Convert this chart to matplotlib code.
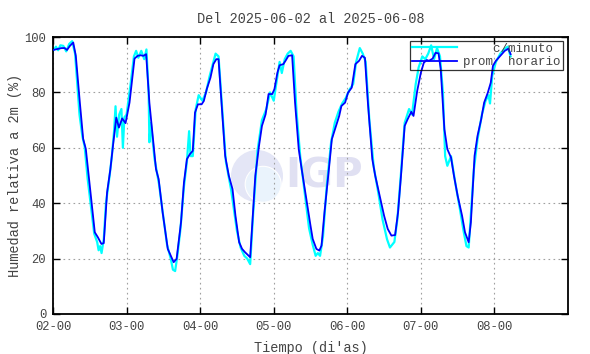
import matplotlib
matplotlib.use("Agg")
import matplotlib.pyplot as plt
from matplotlib.patches import Ellipse

# prom horario (dia del mes, %)
t_hora = [2.0, 2.117, 2.16, 2.19, 2.23, 2.275, 2.31, 2.365, 2.41, 2.446, 2.5, 2.568,
          2.61, 2.658, 2.69, 2.735, 2.78, 2.815, 2.86, 2.896, 2.94, 2.986, 3.04,
          3.108, 3.15, 3.19, 3.23, 3.266, 3.31, 3.355, 3.4, 3.436, 3.49, 3.56, 3.6,
          3.64, 3.68, 3.74, 3.78, 3.82, 3.86, 3.9, 3.93, 3.97, 4.02, 4.05, 4.09,
          4.14, 4.18, 4.22, 4.25, 4.3, 4.34, 4.39, 4.44, 4.48, 4.53, 4.57, 4.61,
          4.68, 4.71, 4.75, 4.8, 4.84, 4.89, 4.93, 4.98, 5.01, 5.05, 5.08, 5.13,
          5.16, 5.2, 5.25, 5.29, 5.34, 5.38, 5.45, 5.5, 5.53, 5.58, 5.62, 5.65,
          5.69, 5.75, 5.79, 5.84, 5.89, 5.92, 5.97, 6.01, 6.06, 6.11, 6.16, 6.2,
          6.24, 6.28, 6.34, 6.38, 6.44, 6.5, 6.55, 6.6, 6.65, 6.69, 6.73, 6.78,
          6.82, 6.87, 6.9, 6.95, 7.0, 7.04, 7.08, 7.11, 7.16, 7.2, 7.24, 7.27,
          7.32, 7.36, 7.41, 7.45, 7.5, 7.56, 7.6, 7.65, 7.68, 7.73, 7.77, 7.82,
          7.86, 7.91, 7.95, 7.98, 8.02, 8.08, 8.14, 8.19, 8.22]
h_hora = [95.3, 96.0, 96.0, 95.3, 96.8, 98.0, 93.2, 76.3, 63.2, 59.6, 46.3, 29.5,
          27.7, 25.3, 25.6, 43.9, 52.3, 60.7, 70.9, 67.3, 70.6, 68.9, 76.3,
          92.2, 93.2, 93.4, 93.2, 93.8, 76.3, 64.3, 52.3, 48.7, 36.7, 23.5, 21.1,
          18.7, 19.9, 33.1, 47.5, 55.9, 57.7, 58.9, 72.7, 75.7, 75.7, 76.9, 81.2,
          85.3, 90.2, 92.0, 92.0, 72.7, 57.1, 49.9, 45.1, 35.5, 25.9, 23.5, 22.3,
          20.5, 33.1, 49.9, 60.7, 67.9, 72.1, 79.4, 79.4, 81.2, 87.1, 89.8, 90.2,
          91.4, 93.2, 93.4, 76.3, 59.5, 52.3, 40.3, 31.9, 27.1, 23.5, 22.9, 24.7,
          36.7, 52.3, 63.1, 67.3, 71.5, 75.1, 76.3, 79.9, 81.7, 90.2, 91.4, 93.2,
          92.5, 76.3, 55.9, 49.9, 42.7, 35.5, 30.7, 28.3, 28.5, 36.7, 49.9, 67.9,
          70.3, 73.0, 71.5, 80.5, 87.1, 90.7, 91.7, 91.4, 92.2, 94.3, 94.1, 88.4,
          66.7, 59.5, 56.5, 49.9, 42.7, 35.5, 29.5, 25.9, 33.1, 57.1, 64.3, 70.3,
          76.3, 79.9, 83.5, 89.6, 91.4, 93.2, 95.0, 95.8, 93.8]

# c/minuto: picos visibles alrededor del promedio
t_min = [2.0, 2.04, 2.07, 2.1, 2.14, 2.18, 2.22, 2.26, 2.3, 2.36, 2.4, 2.43, 2.47,
         2.52, 2.56, 2.6, 2.62, 2.64, 2.66, 2.69, 2.72, 2.77, 2.8, 2.83, 2.85,
         2.87, 2.9, 2.93, 2.95, 2.97, 3.0, 3.05, 3.1, 3.13, 3.16, 3.2, 3.24,
         3.27, 3.3, 3.31, 3.33, 3.38, 3.44, 3.5, 3.55, 3.6, 3.63, 3.66, 3.69,
         3.73, 3.78, 3.82, 3.85, 3.87, 3.9, 3.94, 3.98, 4.03, 4.08, 4.13, 4.18,
         4.21, 4.25, 4.3, 4.35, 4.42, 4.5, 4.55, 4.6, 4.64, 4.68, 4.72, 4.78,
         4.84, 4.9, 4.95, 5.0, 5.04, 5.08, 5.11, 5.15, 5.19, 5.23, 5.27, 5.31,
         5.36, 5.42, 5.48, 5.53, 5.57, 5.6, 5.63, 5.67, 5.72, 5.78, 5.83, 5.88,
         5.93, 5.98, 6.03, 6.08, 6.12, 6.17, 6.21, 6.25, 6.3, 6.36, 6.42, 6.48,
         6.54, 6.58, 6.61, 6.64, 6.68, 6.73, 6.78, 6.84, 6.88, 6.93, 6.97, 7.02,
         7.06, 7.1, 7.14, 7.18, 7.22, 7.26, 7.3, 7.33, 7.36, 7.41, 7.47, 7.53,
         7.58, 7.62, 7.65, 7.68, 7.72, 7.77, 7.83, 7.88, 7.92, 7.94, 7.97, 8.02,
         8.08, 8.13, 8.18, 8.22]
h_min = [95.0, 96.5, 95.2, 97.0, 96.8, 94.8, 97.5, 98.5, 94.0, 72.0, 64.0, 60.5, 49.0,
         38.0, 29.0, 26.0, 23.0, 24.5, 22.0, 27.0, 40.0, 50.0, 57.0, 66.0, 75.0,
         64.0, 72.0, 74.0, 60.0, 71.0, 72.0, 82.0, 93.0, 95.0, 92.5, 95.0, 92.0,
         95.5, 80.0, 62.0, 69.0, 56.0, 47.0, 35.0, 25.0, 20.0, 16.0, 15.5, 21.0,
         30.0, 46.0, 55.0, 66.0, 57.0, 57.0, 74.0, 79.0, 77.0, 80.0, 86.0, 91.0,
         94.0, 93.0, 74.0, 55.0, 45.0, 30.0, 24.0, 21.0, 20.0, 18.0, 36.0, 59.0,
         70.0, 74.0, 80.0, 77.0, 84.0, 91.0, 87.0, 92.0, 94.0, 95.0, 93.0, 73.0,
         57.0, 44.0, 31.0, 25.0, 21.0, 22.0, 21.0, 28.0, 46.0, 62.0, 69.0, 73.0,
         76.0, 78.0, 81.0, 83.0, 91.0, 96.0, 94.0, 91.0, 70.0, 53.0, 44.0, 34.0,
         27.0, 24.0, 25.0, 26.0, 34.0, 51.0, 69.0, 74.0, 72.0, 83.0, 89.0, 93.0,
         92.0, 94.0, 97.0, 92.0, 96.0, 93.0, 80.0, 57.0, 53.5, 57.0, 47.0, 38.0,
         30.0, 24.5, 24.0, 36.0, 52.0, 63.0, 72.0, 77.0, 79.0, 76.0, 86.0, 91.0,
         94.0, 95.5, 96.5, 93.0]

dias = [2, 3, 4, 5, 6, 7, 8]
etiquetas = ["02-00", "03-00", "04-00", "05-00", "06-00", "07-00", "08-00"]

plt.rcParams['font.family'] = ['Liberation Mono', 'DejaVu Sans Mono']
gris = '#444444'

fig = plt.figure(figsize=(5.9, 3.54), dpi=100)
ax = fig.add_axes([53 / 590, 1 - 314 / 354, 515 / 590, 277 / 354])

# marca de agua IGP
cx, cy = (257 - 53) / 515, (314 - 176) / 277
ax.add_patch(Ellipse((cx, cy), 52 / 515, 52 / 277, transform=ax.transAxes,
                     facecolor='#e4e6f6', edgecolor='none', zorder=0.5))
ax.add_patch(Ellipse((cx + 0.012, cy - 0.03), 36 / 515, 36 / 277, transform=ax.transAxes,
                     facecolor='#eaf3fc', edgecolor='white', lw=0.8, zorder=0.6))
ax.text((324 - 53) / 515, cy, "IGP", transform=ax.transAxes, ha='center', va='center',
        fontsize=29, fontweight='bold', family='DejaVu Sans', color='#e0e0f2', zorder=0.5)

ax.plot(t_min, h_min, color='cyan', lw=1.6, label='    c/minuto', zorder=2)
ax.plot(t_hora, h_hora, color='blue', lw=1.3, label='prom  horario', zorder=3)

ax.set_xlim(2, 9)
ax.set_ylim(0, 100)
ax.set_xticks(dias)
ax.set_xticklabels(etiquetas)
ax.set_yticks([0, 20, 40, 60, 80, 100])
ax.tick_params(direction='in', top=True, right=True, length=5, width=1,
               labelsize=8.7, labelcolor=gris, pad=5)
ax.grid(True, color='#a0a0a0', linestyle=(0, (1.5, 3)), lw=0.8)
for s in ax.spines.values():
    s.set_linewidth(1.3)

ax.set_title("Del 2025-06-02 al 2025-06-08", fontsize=9.8, color=gris, pad=10)
ax.set_xlabel("Tiempo (di'as)", fontsize=9.8, color=gris, labelpad=6)
ax.set_ylabel("Humedad relativa a 2m (%)", fontsize=9.8, color=gris, labelpad=2)

leg = ax.legend(loc='upper right', bbox_to_anchor=(0.99, 0.986), fontsize=9,
                frameon=True, fancybox=False, edgecolor='black',
                handlelength=3.6, borderpad=0.15, borderaxespad=0,
                labelspacing=0.1, handletextpad=0.5)
leg.get_frame().set_facecolor('none')
leg.get_frame().set_linewidth(0.9)
for txt in leg.get_texts():
    txt.set_color(gris)

fig.savefig("out.png", dpi=100)
